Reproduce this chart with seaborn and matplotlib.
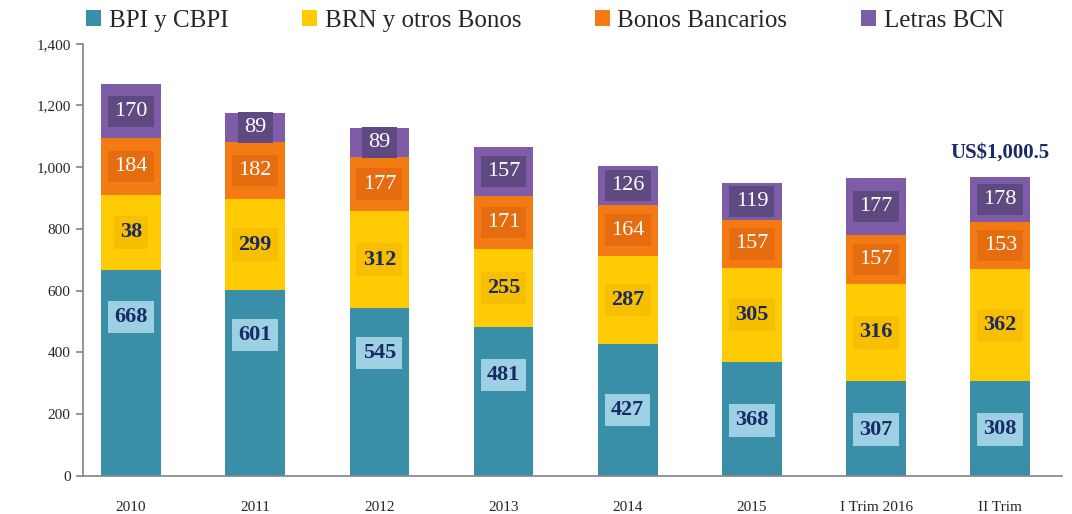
import numpy as np
import pandas as pd
import matplotlib
matplotlib.use("Agg")
import matplotlib.pyplot as plt
import seaborn as sns

categories = ["2010", "2011", "2012", "2013", "2014", "2015", "I Trim 2016", "II Trim"]
series_names = ["BPI y CBPI", "BRN y otros Bonos", "Bonos Bancarios", "Letras BCN"]

# segment heights as drawn in the picture
bpi_h = [668, 601, 545, 481, 427, 368, 307, 308]
brn_h = [242, 297, 312, 255, 287, 305, 316, 362]
bancos_h = [184, 182, 177, 171, 164, 157, 157, 153]
letras_h = [174, 97, 92, 157, 126, 119, 185, 145]

# printed labels
bpi_lbl = ["668", "601", "545", "481", "427", "368", "307", "308"]
brn_lbl = ["38", "299", "312", "255", "287", "305", "316", "362"]
bancos_lbl = ["184", "182", "177", "171", "164", "157", "157", "153"]
letras_lbl = ["170", "89", "89", "157", "126", "119", "177", "178"]

total_text = "US$1,000.5"

colors = ["#3a8fa8", "#ffcb05", "#f47b14", "#7f5ca8"]
box_colors = ["#9dd0e2", "#f7bf00", "#e66c10", "#5e4a80"]
text_colors = ["#1a2a66", "#1a2a66", "white", "white"]
blue_frac = [0.77, 0.76, 0.73, 0.68, 0.5, 0.49, 0.49, 0.49]

sns.set_theme(style="white")
plt.rcParams["font.family"] = ["Liberation Serif", "DejaVu Serif"]

heights = [bpi_h, brn_h, bancos_h, letras_h]
labels = [bpi_lbl, brn_lbl, bancos_lbl, letras_lbl]
cum = np.cumsum(np.array(heights), axis=0)

fig = plt.figure(figsize=(10.72, 5.14), dpi=100)
ax = fig.add_axes([0.077, 0.074, 0.914, 0.841])

# stacked by overdrawing cumulative totals, top series first
for i in range(3, -1, -1):
    df = pd.DataFrame({"cat": categories, "val": cum[i]})
    sns.barplot(data=df, x="cat", y="val", color=colors[i], saturation=1,
                width=0.48, ax=ax, label=series_names[i], edgecolor="none")

for i in range(4):
    for j in range(len(categories)):
        bottom = cum[i][j] - heights[i][j]
        if i == 0:
            y = bottom + heights[i][j] * blue_frac[j]
        else:
            y = bottom + heights[i][j] / 2
        ax.text(j, y, labels[i][j], ha="center", va="center", fontsize=16,
                fontweight="bold" if i < 2 else "normal", color=text_colors[i],
                bbox=dict(boxstyle="square,pad=0.28", fc=box_colors[i], ec="none"))

ax.text(len(categories) - 1, cum[3][-1] + 80, total_text, ha="center", va="center",
        fontsize=15, fontweight="bold", color="#1a2a66")

ax.set_ylim(0, 1400)
ax.set_xlim(-0.39, len(categories) - 0.59)
ax.set_yticks(range(0, 1401, 200))
ax.set_yticklabels([f"{v:,}" for v in range(0, 1401, 200)], fontsize=11)
ax.set_xticks(np.arange(len(categories)) + 0.5, minor=True)
ax.set_xticks(range(len(categories)))
ax.set_xticklabels(categories, fontsize=11)
ax.tick_params(axis="x", which="major", length=0, pad=18)
ax.tick_params(axis="x", which="minor", length=5, color="#888888", direction="out")
ax.tick_params(axis="y", length=5, color="#888888", direction="out", left=True)
ax.set_xlabel("")
ax.set_ylabel("")
for s in ["top", "right"]:
    ax.spines[s].set_visible(False)
for s in ["left", "bottom"]:
    ax.spines[s].set_color("#888888")

handles, lbls = ax.get_legend_handles_labels()
order = [lbls.index(n) for n in series_names]
ax.legend([handles[k] for k in order], [lbls[k] for k in order], ncol=4,
          loc="upper center", bbox_to_anchor=(0.472, 1.13), frameon=False,
          fontsize=18, handlelength=0.6, handleheight=0.6, handletextpad=0.3,
          columnspacing=2.95)

fig.savefig("out.png", dpi=100)
